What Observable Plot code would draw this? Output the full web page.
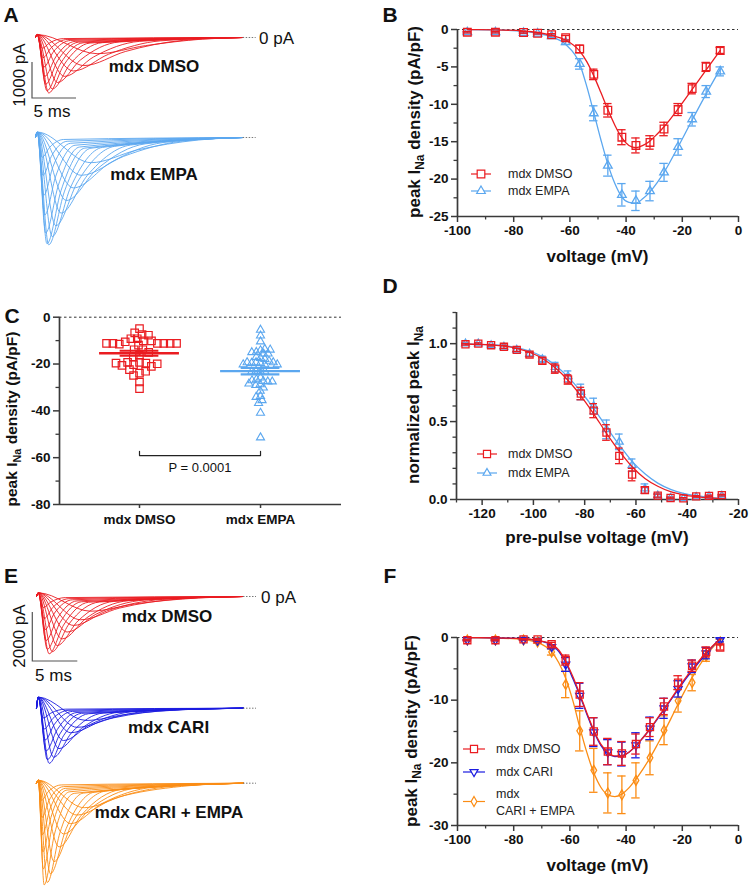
<!DOCTYPE html>
<html><head><meta charset="utf-8">
<script src="https://cdn.jsdelivr.net/npm/d3@7"></script>
<script src="https://cdn.jsdelivr.net/npm/@observablehq/plot@0.6"></script>
<style>
body{margin:0;background:#fff;}
#root{position:relative;width:750px;height:893px;overflow:hidden;background:#fff;font-family:"Liberation Sans",Arial,Helvetica,sans-serif;color:#111;}
#root svg{position:absolute;overflow:visible;}
.lbl{position:absolute;white-space:nowrap;line-height:1;}
</style></head><body><div id="root"></div><script>
// ---------------- DATA ----------------
// Panel B: I-V relation (mV, pA/pF)
const ivVoltages = [-96.5,-86.5,-76.5,-71.5,-66.5,-61.5,-56.5,-51.5,-46.5,-41.5,-36.5,-31.5,-26.5,-21.5,-16.5,-11.5,-6.5];
const ivB_DMSO     = [-0.36,-0.36,-0.4,-0.5,-0.7,-1.1,-2.6,-6.0,-10.8,-14.4,-15.5,-15.1,-13.3,-10.7,-7.9,-5.0,-2.8];
const ivB_DMSO_sem = [0.1,0.1,0.1,0.1,0.15,0.3,0.5,0.7,0.9,1.0,1.0,0.9,0.9,0.8,0.7,0.6,0.4];
const ivB_EMPA     = [-0.36,-0.36,-0.45,-0.55,-0.9,-1.7,-4.6,-11.2,-18.2,-22.1,-22.9,-21.6,-19.1,-15.7,-12.0,-8.3,-5.6];
const ivB_EMPA_sem = [0.1,0.1,0.1,0.1,0.2,0.3,0.7,1.0,1.4,1.5,1.3,1.3,1.2,1.1,0.9,0.8,0.6];
const fitV = [-96.5,-86.5,-76.5,-71.5,-66.5,-61.5,-56.5,-54,-51.5,-49,-46.5,-44,-41.5,-39,-36.5,-34,-31.5,-29,-26.5,-21.5,-16.5,-11.5,-6.5];
const fitB_DMSO = [-0.02,-0.05,-0.2,-0.4,-0.8,-1.4,-2.9,-4.3,-6.2,-8.4,-10.7,-12.8,-14.5,-15.5,-15.8,-15.5,-14.9,-14.0,-13.0,-10.6,-8.0,-5.4,-2.8];
const fitB_EMPA = [-0.02,-0.06,-0.25,-0.5,-1.0,-2.0,-4.6,-7.6,-11.1,-14.7,-18.0,-20.6,-22.4,-23.1,-23.2,-22.6,-21.7,-20.5,-19.1,-15.7,-12.1,-8.6,-5.3];

// Panel C: individual cells (pA/pF)
const groupsC = ["mdx DMSO", "mdx EMPA"];
const scatterDMSO = [-4.9,-6.7,-7.4,-7.7,-9.2,-9.2,-10.1,-10.1,-10.5,-11.2,-11.5,-11.2,-11.2,-11.2,-11.2,-11.2,-11.9,-13.9,-13.9,-15.0,-16.2,-17.0,-19.3,-19.6,-20.3,-21.0,-19.3,-19.9,-20.6,-19.6,-23.9,-24.9,-23.1,-22.4,-27.7,-30.5];
const scatterEMPA = [-5.4,-7.9,-10.4,-14.2,-14.9,-13.6,-15.6,-15.6,-15.0,-13.9,-17.5,-17.0,-17.9,-19.6,-19.3,-18.7,-19.6,-20.2,-19.3,-19.3,-20.2,-20.2,-23.3,-23.0,-23.3,-23.3,-25.8,-26.6,-27.3,-27.5,-27.0,-27.5,-28.7,-29.0,-28.4,-30.1,-31.5,-33.7,-34.1,-35.5,-36.7,-40.9,-51.4];
const pLabel = "P = 0.0001";
const bracketY = -59.1;

// Panel D: steady-state inactivation
const inactV = [-126.5,-121.5,-116.5,-111.5,-106.5,-101.5,-96.5,-91.5,-86.5,-81.5,-76.5,-71.5,-66.5,-61.5,-56.5,-51.5,-46.5,-41.5,-36.5,-31.5,-26.5];
const inactDMSO     = [0.996,1.0,0.99,0.98,0.96,0.93,0.89,0.84,0.77,0.68,0.57,0.43,0.28,0.16,0.06,0.025,0.01,0.007,0.02,0.023,0.028];
const inactDMSO_sem = [0.005,0.005,0.005,0.01,0.01,0.015,0.02,0.03,0.03,0.04,0.045,0.05,0.05,0.04,0.02,0.01,0.005,0.005,0.005,0.005,0.005];
const inactEMPA     = [1.0,1.0,0.99,0.98,0.96,0.935,0.90,0.85,0.79,0.69,0.60,0.45,0.37,0.22,0.07,0.025,0.01,0.007,0.015,0.02,0.023];
const inactEMPA_sem = [0.005,0.005,0.005,0.01,0.01,0.015,0.02,0.03,0.035,0.05,0.05,0.06,0.05,0.04,0.03,0.01,0.005,0.005,0.005,0.005,0.005];
const fitD_DMSO = [0.998,0.996,0.992,0.985,0.97,0.945,0.905,0.845,0.765,0.665,0.55,0.425,0.31,0.21,0.135,0.085,0.05,0.03,0.018,0.01,0.006];
const fitD_EMPA = [0.998,0.996,0.993,0.987,0.975,0.953,0.917,0.862,0.787,0.693,0.585,0.465,0.35,0.245,0.165,0.105,0.065,0.04,0.024,0.014,0.008];

// Panel F: I-V relation
const ivF_DMSO     = [-0.43,-0.43,-0.3,-0.3,-1.07,-3.6,-9.1,-15.0,-18.2,-18.5,-17.0,-14.3,-11.0,-7.2,-4.5,-2.3,-1.6];
const ivF_DMSO_sem = [0.1,0.1,0.1,0.1,0.3,0.8,1.9,2.2,2.1,1.9,1.6,1.5,1.3,1.1,0.9,0.8,0.4];
const ivF_CARI     = [-0.4,-0.4,-0.35,-0.5,-1.5,-4.3,-9.3,-15.1,-18.3,-18.6,-17.2,-14.5,-11.3,-8.2,-4.6,-2.5,-0.4];
const ivF_CARI_sem = [0.1,0.1,0.1,0.1,0.3,1.1,2.0,2.3,2.0,1.9,2.0,1.8,1.6,1.3,1.0,0.9,0.3];
const ivF_CE       = [-0.4,-0.4,-0.4,-0.7,-2.3,-7.5,-14.9,-21.2,-24.8,-25.1,-22.8,-19.2,-14.8,-10.1,-7.2,-3.0,-0.7];
const ivF_CE_sem   = [0.1,0.1,0.1,0.2,0.5,2.1,3.2,3.5,3.2,3.0,2.8,2.7,2.3,1.8,1.3,0.8,0.4];
const fitVF = [-96.5,-86.5,-76.5,-71.5,-66.5,-64,-61.5,-59,-56.5,-54,-51.5,-49,-46.5,-44,-41.5,-39,-36.5,-34,-31.5,-29,-26.5,-24,-21.5,-16.5,-11.5,-6.5];
const fitF_DMSO = [-0.02,-0.05,-0.2,-0.45,-1.1,-2.0,-3.8,-6.2,-9.0,-12.0,-14.8,-17.0,-18.3,-18.9,-18.9,-18.3,-17.3,-16.0,-14.6,-13.0,-11.4,-9.8,-8.1,-5.1,-2.4,-0.2];
const fitF_CARI = [-0.02,-0.05,-0.22,-0.5,-1.2,-2.2,-4.0,-6.5,-9.2,-12.2,-15.0,-17.2,-18.5,-19.0,-18.9,-18.3,-17.3,-16.0,-14.6,-13.1,-11.5,-9.9,-8.3,-5.3,-2.6,-0.1];
const fitF_CE   = [-0.02,-0.08,-0.35,-0.8,-2.3,-4.0,-6.5,-10.0,-14.3,-18.3,-21.6,-23.9,-25.1,-25.4,-25.0,-24.0,-22.6,-21.0,-19.2,-17.2,-15.1,-12.9,-10.6,-6.4,-2.9,-0.3];

// Current traces: rows of [time to peak (ms), peak (pA), time at half decay (ms), time at 10% (ms)]
const tracesA_DMSO = [[0.75,-300,1.6,3.2],[0.85,-560,1.8,3.6],[0.95,-820,2.0,4.0],[1.05,-1080,2.3,4.5],[1.15,-1300,2.5,4.9],[1.3,-1480,2.8,5.4],[1.5,-1540,3.2,6.2],[1.9,-1430,4.0,7.6],[2.5,-1250,5.1,9.5],[3.3,-1080,6.6,11.8],[4.3,-930,8.3,14.2],[5.5,-780,10.2,16.8],[7.0,-450,12.5,19]];
const tracesA_EMPA = [[0.75,-550,1.6,3.2],[0.85,-1050,1.8,3.6],[0.95,-1600,2.0,4.0],[1.05,-2150,2.3,4.5],[1.15,-2650,2.6,5.0],[1.3,-2950,2.9,5.6],[1.5,-2980,3.3,6.3],[1.9,-2750,4.0,7.6],[2.3,-2450,4.8,9.0],[2.9,-2100,5.9,10.8],[3.5,-1750,7.0,12.5],[4.3,-1400,8.5,14.5],[5.2,-1050,10,16.5],[6.3,-700,11.5,18.5]];
const tracesE_DMSO = [[0.75,-450,1.6,3.2],[0.85,-900,1.8,3.6],[0.95,-1350,2.0,4.0],[1.05,-1800,2.3,4.5],[1.2,-2150,2.6,5.0],[1.4,-2340,3.0,5.8],[1.75,-2250,3.6,7.0],[2.3,-2000,4.6,8.6],[2.85,-1730,5.6,10.2],[3.4,-1450,6.6,12],[4.1,-1180,7.8,14],[4.9,-950,9.2,16],[6.0,-600,11,18]];
const tracesE_CARI = [[0.75,-400,1.6,3.2],[0.85,-850,1.8,3.6],[0.95,-1300,2.0,4.0],[1.05,-1750,2.3,4.5],[1.2,-2100,2.6,5.0],[1.4,-2250,3.0,5.8],[1.9,-2000,3.9,7.4],[2.5,-1650,5.0,9.2],[3.0,-1320,6.0,11],[3.8,-1000,7.4,13],[4.5,-780,8.6,15],[5.5,-500,10,17]];
const tracesE_CE = [[0.55,-700,1.3,2.8],[0.6,-1400,1.4,3.0],[0.65,-2100,1.5,3.2],[0.7,-2800,1.6,3.4],[0.75,-3500,1.75,3.7],[0.85,-4150,2.0,4.2],[1.2,-4050,2.6,5.2],[1.55,-3700,3.3,6.4],[1.95,-3200,4.0,7.7],[2.5,-2600,5.0,9.4],[3.0,-2070,6.0,11],[3.8,-1650,7.3,13],[4.5,-1300,8.5,15],[5.3,-1000,9.8,17]];
// initial capacitive transient (pA) per family
const capA_DMSO = 80, capA_EMPA = 150, capE_DMSO = 150, capE_CARI = 450, capE_CE = 120;

// ---------------- STYLE ----------------
const RED = "#ea1c21", LBLUE = "#5ba7ef", BLUE = "#1c1ce0", ORANGE = "#fb8c14";
const AXIS = "#3a3a3a";
const FONT = "'Liberation Sans', Arial, Helvetica, sans-serif";
const root = document.getElementById("root");

function place(el, left, top) { el.style.left = left + "px"; el.style.top = top + "px"; root.appendChild(el); return el; }
function txt(s, x, y, {size = 17, weight = "bold", rotate = 0, anchor = "middle"} = {}) {
  const d = document.createElement("div");
  d.className = "lbl"; d.textContent = s;
  d.style.fontSize = size + "px"; d.style.fontWeight = weight;
  const tx = anchor === "middle" ? "-50%" : anchor === "start" ? "0" : "-100%";
  d.style.transform = `translate(${tx},-50%) rotate(${rotate}deg)`;
  return place(d, x, y);
}

const triDown = {draw(ctx, size) { const y = -Math.sqrt(size / (Math.sqrt(3) * 3)); ctx.moveTo(0, -y * 2); ctx.lineTo(-Math.sqrt(3) * y, y); ctx.lineTo(Math.sqrt(3) * y, y); ctx.closePath(); }};

// ---------------- TRACE PANELS ----------------
function tracePanel({top, height, x0, pxMs, y0, pxPA, tEnd, rows, cap, color}) {
  const W = 300, y0l = y0 - top;
  const pts = rows.flatMap((r, k) => [[0, 0], [0.2, cap], [r[0], r[1]], [r[2], r[1] / 2], [r[3], r[1] / 10], [tEnd, 0]].map(([t, i]) => ({t, i, k})));
  const svg = Plot.plot({
    width: W, height, margin: 0,
    x: {domain: [-x0 / pxMs, (W - x0) / pxMs], axis: null},
    y: {domain: [(y0l - height) / pxPA, y0l / pxPA], axis: null},
    style: {background: "transparent", overflow: "visible"},
    marks: [
      Plot.line(pts, {x: "t", y: "i", z: "k", stroke: color, strokeWidth: 0.9, curve: "monotone-x"}),
      Plot.ruleY([0], {x1: tEnd, x2: tEnd + 13 / pxMs, stroke: "#777", strokeDasharray: "1.5,1.5", strokeWidth: 1})
    ]
  });
  place(svg, 0, top);
}
// A
tracePanel({top: 20, height: 100, x0: 35, pxMs: 8.8, y0: 37, pxPA: 0.036, tEnd: 23.6, rows: tracesA_DMSO, cap: capA_DMSO, color: RED});
tracePanel({top: 120, height: 140, x0: 35, pxMs: 8.8, y0: 137, pxPA: 0.036, tEnd: 23.6, rows: tracesA_EMPA, cap: capA_EMPA, color: LBLUE});
// E
tracePanel({top: 585, height: 90, x0: 36, pxMs: 9, y0: 596, pxPA: 0.0245, tEnd: 23, rows: tracesE_DMSO, cap: capE_DMSO, color: RED});
tracePanel({top: 690, height: 90, x0: 36, pxMs: 9, y0: 707.7, pxPA: 0.0245, tEnd: 23, rows: tracesE_CARI, cap: capE_CARI, color: BLUE});
tracePanel({top: 770, height: 123, x0: 36, pxMs: 9, y0: 782.7, pxPA: 0.0245, tEnd: 23, rows: tracesE_CE, cap: capE_CE, color: ORANGE});

// scale bars
const ov = d3.create("svg").attr("width", 750).attr("height", 893).style("left", "0px").style("top", "0px");
function scaleBar(x, yBottom, hLen, vLen) {
  ov.append("path").attr("d", `M${x},${yBottom - vLen}V${yBottom}H${x + hLen}`).attr("fill", "none").attr("stroke", "#555").attr("stroke-width", 1.2);
}
scaleBar(32, 98, 5 * 8.8, 1000 * 0.036);
scaleBar(32.3, 661, 5 * 9, 2000 * 0.0245);
root.appendChild(ov.node());

txt("1000 pA", 18.5, 75, {weight: "normal", rotate: -90});
txt("5 ms", 52, 111, {weight: "normal"});
txt("0 pA", 259, 37.5, {weight: "normal", anchor: "start"});
txt("mdx DMSO", 154, 65.5);
txt("mdx EMPA", 154, 173.5);
txt("2000 pA", 19, 636, {weight: "normal", rotate: -90});
txt("5 ms", 53.5, 675, {weight: "normal"});
txt("0 pA", 261, 596.5, {weight: "normal", anchor: "start"});
txt("mdx DMSO", 167, 615.5);
txt("mdx CARI", 168.5, 727);
txt("mdx CARI + EMPA", 169, 812);

// panel letters
[["A", 11, 13.5], ["B", 390, 13.5], ["C", 12, 315], ["D", 390, 285], ["E", 11, 575], ["F", 390, 575]].forEach(([s, x, y]) => txt(s, x, y, {size: 21}));

// ---------------- XY PANELS ----------------
function yTitle(svg, x, cy, main, sub, rest, size = 17) {
  const g = d3.select(svg).append("g").attr("transform", `translate(${x},${cy}) rotate(-90)`);
  const t = g.append("text").attr("text-anchor", "middle").attr("dy", "0.35em").attr("font-size", size).attr("font-weight", "bold").attr("fill", "#111").attr("font-family", FONT);
  t.append("tspan").text(main);
  t.append("tspan").attr("font-size", size * 0.7).attr("dy", 4).text(sub);
  if (rest) t.append("tspan").attr("dy", -4).text(rest);
}
function xTitle(svg, cx, y, s) {
  d3.select(svg).append("text").attr("x", cx).attr("y", y).attr("text-anchor", "middle").attr("dy", "0.35em").attr("font-size", 17).attr("font-weight", "bold").attr("fill", "#111").attr("font-family", FONT).text(s);
}
function legend(svg, items, {x1, x2, tx}) {
  const g = d3.select(svg).append("g").attr("text-anchor", "start");
  for (const it of items) {
    g.append("line").attr("x1", x1).attr("x2", x2).attr("y1", it.y).attr("y2", it.y).attr("stroke", it.color).attr("stroke-width", 1.2);
    g.append("path").attr("transform", `translate(${(x1 + x2) / 2},${it.y})`).attr("d", d3.symbol(it.symbol, Math.PI * it.r * it.r)()).attr("fill", "white").attr("stroke", it.color).attr("stroke-width", 1.2);
    it.lines.forEach(([s, y]) => g.append("text").attr("x", tx).attr("y", y).attr("dy", "0.35em").attr("text-anchor", "start").attr("font-size", 12.5).attr("font-weight", "normal").attr("fill", "#222").attr("font-family", FONT).text(s));
  }
}
function seriesMarks(V, Y, E, fitX, fitY, color, symbol, r, capW) {
  const pts = V.map((v, i) => ({v, y: Y[i], e: E[i]}));
  const fit = fitX.map((v, i) => ({v, y: fitY[i]}));
  return [
    Plot.line(fit, {x: "v", y: "y", stroke: color, strokeWidth: 1.3, curve: "monotone-x"}),
    Plot.ruleX(pts, {x: "v", y1: d => d.y - d.e, y2: d => d.y + d.e, stroke: color, strokeWidth: 1.3}),
    Plot.ruleY(pts, {y: d => d.y - d.e, x1: d => d.v - capW, x2: d => d.v + capW, stroke: color, strokeWidth: 1.3}),
    Plot.ruleY(pts, {y: d => d.y + d.e, x1: d => d.v - capW, x2: d => d.v + capW, stroke: color, strokeWidth: 1.3}),
    Plot.dot(pts, {x: "v", y: "y", symbol, r, stroke: color, fill: "none", strokeWidth: 1.3})
  ];
}
function axesMarks({xDomain, yDomain, xMajor, xMinor, yMajor, yMinor, xFmt, yFmt}) {
  return [
    Plot.axisX({ticks: xMinor, tickSize: 3.5, tickFormat: () => "", stroke: AXIS, strokeWidth: 1.3, label: null}),
    Plot.axisY({ticks: yMinor, tickSize: 3.5, tickFormat: () => "", stroke: AXIS, strokeWidth: 1.3, label: null}),
    Plot.axisX({ticks: xMajor, tickSize: 6, tickPadding: 3, tickFormat: xFmt, stroke: AXIS, strokeWidth: 1.5, label: null}),
    Plot.axisY({ticks: yMajor, tickSize: 6, tickPadding: 3, tickFormat: yFmt, stroke: AXIS, strokeWidth: 1.5, label: null}),
    Plot.ruleX([xDomain[0]], {stroke: AXIS, strokeWidth: 1.7}),
    Plot.ruleY([yDomain[0]], {stroke: AXIS, strokeWidth: 1.7})
  ];
}
const baseStyle = {fontFamily: FONT, fontSize: "13.5px", fontWeight: "bold", color: "#111", background: "transparent", overflow: "visible"};
const fmtInt = d => String(d);

// B
{
  const ax = {xDomain: [-100, 0], yDomain: [-25, 0], xMajor: d3.range(-100, 1, 20), xMinor: d3.range(-90, 0, 20), yMajor: d3.range(-25, 1, 5), yMinor: d3.range(-22.5, 0, 5), xFmt: fmtInt, yFmt: fmtInt};
  const svg = Plot.plot({
    width: 380, height: 270, marginLeft: 87, marginRight: 12, marginTop: 29, marginBottom: 54,
    x: {domain: ax.xDomain}, y: {domain: ax.yDomain}, style: baseStyle,
    marks: [
      Plot.ruleY([0], {stroke: "#333", strokeDasharray: "2.5,2.5", strokeWidth: 1}),
      ...axesMarks(ax),
      ...seriesMarks(ivVoltages, ivB_EMPA, ivB_EMPA_sem, fitV, fitB_EMPA, LBLUE, d3.symbolTriangle, 3.2, 1.5),
      ...seriesMarks(ivVoltages, ivB_DMSO, ivB_DMSO_sem, fitV, fitB_DMSO, RED, d3.symbolSquare, 4.3, 1.5)
    ]
  });
  yTitle(svg, 44, 122, "peak I", "Na", " density (pA/pF)");
  xTitle(svg, 227.5, 256, "voltage (mV)");
  legend(svg, [
    {y: 174, color: RED, symbol: d3.symbolSquare, r: 4.3, lines: [["mdx DMSO", 174]]},
    {y: 191, color: LBLUE, symbol: d3.symbolTriangle, r: 3.2, lines: [["mdx EMPA", 191]]}
  ], {x1: 101, x2: 121, tx: 138});
  place(svg, 370, 0);
}

// C
{
  const xd = [-0.661, 1.669];
  const stats = [scatterDMSO, scatterEMPA].map((vals, g) => ({g, mean: d3.mean(vals), sem: d3.deviation(vals) / Math.sqrt(vals.length)}));
  const svg = Plot.plot({
    width: 370, height: 240, marginLeft: 59, marginRight: 29, marginTop: 16.7, marginBottom: 36,
    x: {domain: xd}, y: {domain: [-80, 0]}, style: baseStyle,
    marks: [
      Plot.ruleY([0], {stroke: "#333", strokeDasharray: "2.5,2.5", strokeWidth: 1}),
      Plot.axisY({ticks: [-70, -50, -30, -10], tickSize: 3.5, tickFormat: () => "", stroke: AXIS, strokeWidth: 1.3, label: null}),
      Plot.axisY({ticks: d3.range(-80, 1, 20), tickSize: 6, tickPadding: 3, tickFormat: fmtInt, stroke: AXIS, strokeWidth: 1.5, label: null}),
      Plot.axisX({ticks: [0, 1], tickSize: 4, tickPadding: 6, tickFormat: i => groupsC[i], stroke: AXIS, strokeWidth: 1.5, label: null}),
      Plot.ruleX([xd[0]], {stroke: AXIS, strokeWidth: 1.7}),
      Plot.ruleY([-80], {stroke: AXIS, strokeWidth: 1.7}),
      Plot.dot(scatterDMSO, Plot.dodgeX({anchor: "middle", padding: -2}, {y: d => d, r: 4.2, symbol: d3.symbolSquare, stroke: RED, fill: "none", strokeWidth: 1.2, dx: -61})),
      Plot.dot(scatterEMPA, Plot.dodgeX({anchor: "middle", padding: -1.5}, {y: d => d, r: 3.0, symbol: d3.symbolTriangle, stroke: LBLUE, fill: "none", strokeWidth: 1.1, dx: 60})),
      Plot.ruleY(stats, {y: "mean", x1: d => d.g - 0.33, x2: d => d.g + 0.33, stroke: (d) => d.g ? LBLUE : RED, strokeWidth: 2.4}),
      Plot.ruleY(stats, {y: d => d.mean - d.sem, x1: d => d.g - 0.16, x2: d => d.g + 0.16, stroke: (d) => d.g ? LBLUE : RED, strokeWidth: 2.2}),
      Plot.ruleY(stats, {y: d => d.mean + d.sem, x1: d => d.g - 0.16, x2: d => d.g + 0.16, stroke: (d) => d.g ? LBLUE : RED, strokeWidth: 2.2}),
      Plot.ruleX(stats, {x: "g", y1: d => d.mean - d.sem, y2: d => d.mean + d.sem, stroke: (d) => d.g ? LBLUE : RED, strokeWidth: 2.2}),
      Plot.line([[0, bracketY + 1.8], [0, bracketY], [1, bracketY], [1, bracketY + 1.8]], {stroke: "#222", strokeWidth: 1.2}),
      Plot.text([pLabel], {x: 0.5, y: bracketY, dy: 12, text: d => d, fontSize: 13, fontWeight: "normal", fill: "#111"})
    ]
  });
  yTitle(svg, 12, 119, "peak I", "Na", " density (pA/pF)", 15.5);
  place(svg, 0, 300);
}

// D
{
  const ax = {xDomain: [-130, -20], yDomain: [0, 1.2], xMajor: d3.range(-120, -19, 20), xMinor: d3.range(-130, -20, 20), yMajor: [0, 0.5, 1.0], yMinor: [0.1, 0.2, 0.3, 0.4, 0.6, 0.7, 0.8, 0.9, 1.1, 1.2], xFmt: fmtInt, yFmt: d3.format(".1f")};
  const svg = Plot.plot({
    width: 380, height: 270, marginLeft: 86, marginRight: 12, marginTop: 32, marginBottom: 51,
    x: {domain: ax.xDomain}, y: {domain: ax.yDomain}, style: baseStyle,
    marks: [
      ...axesMarks(ax),
      ...seriesMarks(inactV, inactEMPA, inactEMPA_sem, inactV, fitD_EMPA, LBLUE, d3.symbolTriangle, 2.9, 1.5),
      ...seriesMarks(inactV, inactDMSO, inactDMSO_sem, inactV, fitD_DMSO, RED, d3.symbolSquare, 4.0, 1.5)
    ]
  });
  yTitle(svg, 43, 125, "normalized peak I", "Na", "");
  xTitle(svg, 227, 257, "pre-pulse voltage (mV)");
  legend(svg, [
    {y: 174, color: RED, symbol: d3.symbolSquare, r: 4.0, lines: [["mdx DMSO", 174]]},
    {y: 193, color: LBLUE, symbol: d3.symbolTriangle, r: 2.9, lines: [["mdx EMPA", 193]]}
  ], {x1: 107, x2: 127, tx: 138});
  place(svg, 370, 280);
}

// F
{
  const ax = {xDomain: [-100, 0], yDomain: [-30, 0], xMajor: d3.range(-100, 1, 20), xMinor: d3.range(-90, 0, 20), yMajor: [-30, -20, -10, 0], yMinor: [-25, -15, -5], xFmt: fmtInt, yFmt: fmtInt};
  const svg = Plot.plot({
    width: 380, height: 323, marginLeft: 87, marginRight: 12, marginTop: 67, marginBottom: 68,
    x: {domain: ax.xDomain}, y: {domain: ax.yDomain}, style: baseStyle,
    marks: [
      Plot.ruleY([0], {stroke: "#333", strokeDasharray: "2.5,2.5", strokeWidth: 1}),
      ...axesMarks(ax),
      ...seriesMarks(ivVoltages, ivF_CE, ivF_CE_sem, fitVF, fitF_CE, ORANGE, d3.symbolDiamond, 3.0, 1.5),
      ...seriesMarks(ivVoltages, ivF_CARI, ivF_CARI_sem, fitVF, fitF_CARI, BLUE, triDown, 3.0, 1.5),
      ...seriesMarks(ivVoltages, ivF_DMSO, ivF_DMSO_sem, fitVF, fitF_DMSO, RED, d3.symbolSquare, 4.0, 1.5)
    ]
  });
  yTitle(svg, 41, 161, "peak I", "Na", " density (pA/pF)");
  xTitle(svg, 227.5, 295, "voltage (mV)");
  legend(svg, [
    {y: 179, color: RED, symbol: d3.symbolSquare, r: 4.0, lines: [["mdx DMSO", 179]]},
    {y: 202, color: BLUE, symbol: triDown, r: 3.0, lines: [["mdx CARI", 202]]},
    {y: 231.5, color: ORANGE, symbol: d3.symbolDiamond, r: 3.0, lines: [["mdx", 223.5], ["CARI + EMPA", 240.5]]}
  ], {x1: 93, x2: 115, tx: 126});
  place(svg, 370, 570);
}
</script></body></html>
